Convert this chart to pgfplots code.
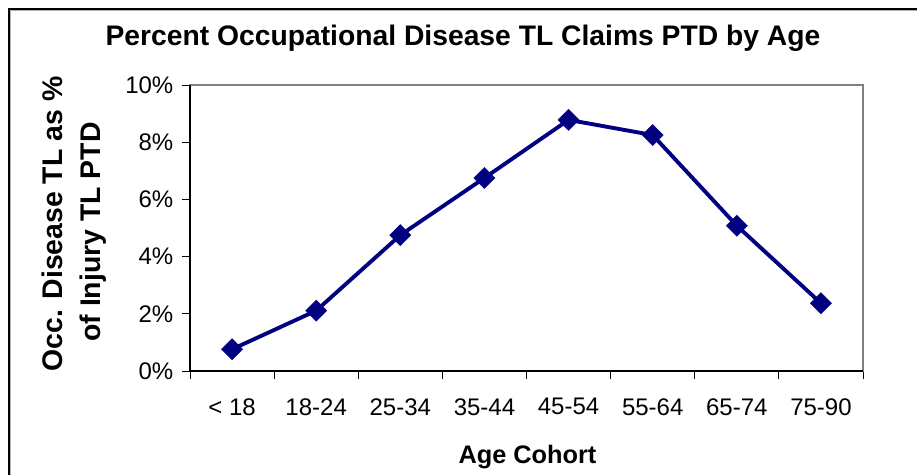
\documentclass[border=0pt]{standalone}
\usepackage{pgfplots}
\pgfplotsset{compat=1.18}
\usepackage{fontspec}
\setmainfont{Liberation Sans}
\definecolor{navy}{RGB}{0,0,128}
\begin{document}
\begin{tikzpicture}
\path[use as bounding box] (0,0) rectangle (687.75pt,356.25pt);
% outer frame (left and top)
\draw[gray!60, line width=0.9pt] (7.5pt,0) -- (7.5pt,348.75pt) -- (687.75pt,348.75pt);
\draw[black, line width=1.1pt] (6.75pt,0) -- (6.75pt,349.5pt) -- (687.75pt,349.5pt);
\begin{axis}[
  at={(142.5pt,78pt)}, anchor=south west,
  scale only axis, width=504.75pt, height=214.5pt,
  xmin=0, xmax=8, ymin=0, ymax=10,
  axis line style={draw=gray, line width=0.9pt},
  xtick={0.5,1.5,...,7.5},
  xticklabels={< 18,18-24,25-34,35-44,45-54,55-64,65-74,75-90},
  minor xtick={0,1,...,8},
  ytick={0,2,4,6,8,10},
  yticklabels={0\%,2\%,4\%,6\%,8\%,10\%},
  tick align=outside,
  xtick pos=bottom, ytick pos=left,
  major x tick style={draw=none},
  minor tick length=6pt,
  major tick length=6pt,
  tick style={black, line width=0.6pt},
  ticklabel style={font=\fontsize{18}{21}\selectfont},
  xticklabel style={yshift=-11pt},
  yticklabel style={xshift=-3pt},
  clip=false,
]
\draw[black, line width=0.9pt] (rel axis cs:0,1) -- (rel axis cs:0,0) -- (rel axis cs:1,0);
\addplot[navy, line width=2.9pt, mark=square*, mark size=5.7pt,
  mark options={rotate=45, fill=navy, draw=navy, line width=0.1pt}]
  coordinates {(0.5,0.76) (1.5,2.11) (2.5,4.75) (3.5,6.75) (4.5,8.78) (5.5,8.25) (6.5,5.08) (7.5,2.37)};
\end{axis}
\node[anchor=base, font=\fontsize{21.2}{24}\bfseries] at (347.25pt,321.75pt) {Percent Occupational Disease TL Claims PTD by Age};
\node[anchor=base, font=\fontsize{19}{22}\bfseries] at (395.6pt,9pt) {Age Cohort};
\node[anchor=base, rotate=90, font=\fontsize{21.3}{24}\bfseries] at (46.5pt,188.25pt) {Occ. Disease TL as \%};
\node[anchor=base, rotate=90, font=\fontsize{21.3}{24}\bfseries] at (75pt,182.25pt) {of Injury TL PTD};
\end{tikzpicture}
\end{document}
